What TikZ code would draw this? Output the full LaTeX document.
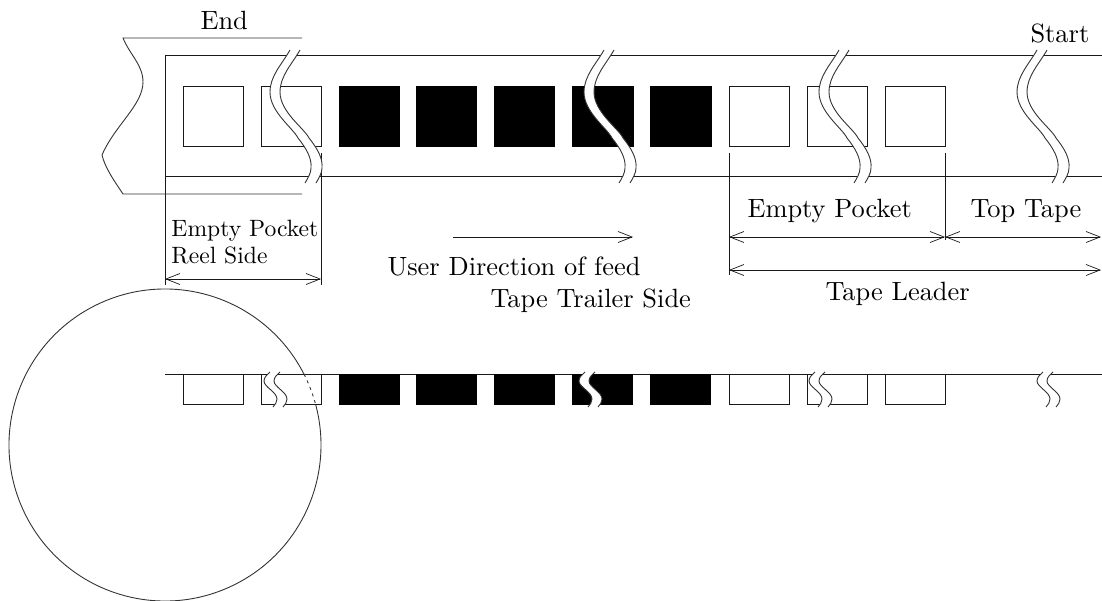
\documentclass[tikz,border=0pt]{standalone}
\usetikzlibrary{arrows.meta}
\tikzset{
  x=1pt,y=-1pt,
  line/.style={line width=1pt,black!90},
  dim/.style={line width=1pt,black!90,{Straight Barb[length=14pt,width=11pt,line width=0.7pt]}-{Straight Barb[length=14pt,width=11pt,line width=0.7pt]}},
  dirarrow/.style={line width=1pt,black!90,-{Straight Barb[length=14pt,width=11pt,line width=0.7pt]}},
  biglabel/.style={inner sep=0pt,scale=2.64,anchor=base west},
  reellabel/.style={inner sep=0pt,scale=2.36,anchor=base west},
  pocket/.style={draw=black!90,line width=1pt,fill=white},
  filled/.style={draw=black,line width=0.5pt,fill=black},
  edgecurve/.style={draw=black!80,line width=0.9pt}
}
\newcommand{\tapebreak}[2]{%
  \begin{scope}[shift={(#1,#2)}]
    \fill[white] (0,0) .. controls (-8,14) and (-20,26) .. (-20,42) .. controls (-20,62) and (3,78) .. (8,88)
      .. controls (16,98) and (22,108) .. (21,118) .. controls (21,123) and (18,128) .. (15,133)
      -- (26,133) .. controls (29,128) and (32,123) .. (32,118) .. controls (33,108) and (27,98) .. (19,88)
      .. controls (14,78) and (-10,62) .. (-10,42) .. controls (-10,26) and (2,14) .. (10,0) -- cycle;
    \draw[edgecurve] (0,0) .. controls (-8,14) and (-20,26) .. (-20,42) .. controls (-20,62) and (3,78) .. (8,88)
      .. controls (16,98) and (22,108) .. (21,118) .. controls (21,123) and (18,128) .. (15,133);
    \draw[edgecurve] (10,0) .. controls (2,14) and (-10,26) .. (-10,42) .. controls (-10,62) and (14,78) .. (19,88)
      .. controls (27,98) and (33,108) .. (32,118) .. controls (32,123) and (29,128) .. (26,133);
  \end{scope}}
\newcommand{\lowbreak}[2]{%
  \begin{scope}[shift={(#1,#2)}]
    \fill[white] (0,0) .. controls (-3,3) and (-6,5) .. (-6,9) .. controls (-6,15) and (7,20) .. (7,27)
      .. controls (7,30) and (5,33) .. (3,35) -- (13,35) .. controls (15,33) and (17,30) .. (17,27)
      .. controls (17,20) and (4,15) .. (4,9) .. controls (4,5) and (7,3) .. (10,0) -- cycle;
    \draw[edgecurve] (0,0) .. controls (-3,3) and (-6,5) .. (-6,9) .. controls (-6,15) and (7,20) .. (7,27)
      .. controls (7,30) and (5,33) .. (3,35);
    \draw[edgecurve] (10,0) .. controls (7,3) and (4,5) .. (4,9) .. controls (4,15) and (17,20) .. (17,27)
      .. controls (17,30) and (15,33) .. (13,35);
  \end{scope}}
\begin{document}
\begin{tikzpicture}
\useasboundingbox (0,0) rectangle (1102,600);
% named coordinates
\coordinate (epL) at (165,279); \coordinate (epR) at (321,279);
\coordinate (mpL) at (729,237); \coordinate (mpR) at (945,237);
\coordinate (ttR) at (1101,237);
\coordinate (tlL) at (729,270); \coordinate (tlR) at (1101,270);
\coordinate (dirL) at (453,237); \coordinate (dirR) at (633,237);
% reel circle
\draw[line width=0.9pt,black!80] (165,445) ++(-26.9:156) arc[start angle=-26.9,end angle=-375.6,radius=156];
% top tape
\draw[line] (165,285) -- (165,55) -- (1102,55);
\draw[line] (165,176) -- (1102,176);
\draw[line] (321,153) -- (321,285);
\draw[line] (729,153) -- (729,275);
\draw[line] (945,153) -- (945,240);
% end of the reel
\draw[edgecurve] (302,38) -- (123,38) .. controls (130,55) and (143,65) .. (143,82)
  .. controls (143,105) and (115,125) .. (102,155) .. controls (105,168) and (115,182) .. (123,194) -- (302,194);
% pockets
\foreach \x in {183,261,729,807,885}{
  \draw[pocket] (\x,86) rectangle ++(60,60);
}
\foreach \x/\w in {339/60,416/60,494/60,572/61,650/61}{
  \fill[filled] (\x,86) rectangle ++(\w,60.5);
}
\tapebreak{290}{50}
\tapebreak{604}{50}
\tapebreak{839}{50}
\tapebreak{1037}{50}
% lower tape
\draw[line] (165,374) -- (1102,374);
\foreach \x in {183,261,729,807,885}{
  \draw[pocket] (\x,374) rectangle ++(60,30);
}
\foreach \x in {339,416,494,572,650}{
  \fill[filled] (\x,374) rectangle ++(60.5,30);
}
\draw[line width=0.9pt,black!80,dash pattern=on 3pt off 4pt] (165,445) ++(-15.6:156) arc[start angle=-15.6,end angle=-26.9,radius=156];
\lowbreak{270}{372}
\lowbreak{585}{372}
\lowbreak{815}{372}
\lowbreak{1043}{372}
% dimension arrows
\draw[dim] (epL) -- (epR);
\draw[dim] (mpL) -- (mpR);
\draw[dim] (mpR) -- (ttR);
\draw[dim] (tlL) -- (tlR);
\draw[dirarrow] (dirL) -- (dirR);
% labels
\node[biglabel] (endl) at (200,29) {End};
\node[biglabel] (startl) at (1030,42) {Start};
\node[reellabel] (emptyreel) at (171,236) {Empty Pocket};
\node[reellabel] (reelside) at (171,263) {Reel Side};
\node[biglabel] (emptytop) at (747,217) {Empty Pocket};
\node[biglabel] (toptape) at (970,217) {Top Tape};
\node[biglabel] (leader) at (825,300) {Tape Leader};
\node[biglabel] (userdir) at (387,275) {User Direction of feed};
\node[biglabel] (trailer) at (490,307) {Tape Trailer Side};
\end{tikzpicture}
\end{document}
